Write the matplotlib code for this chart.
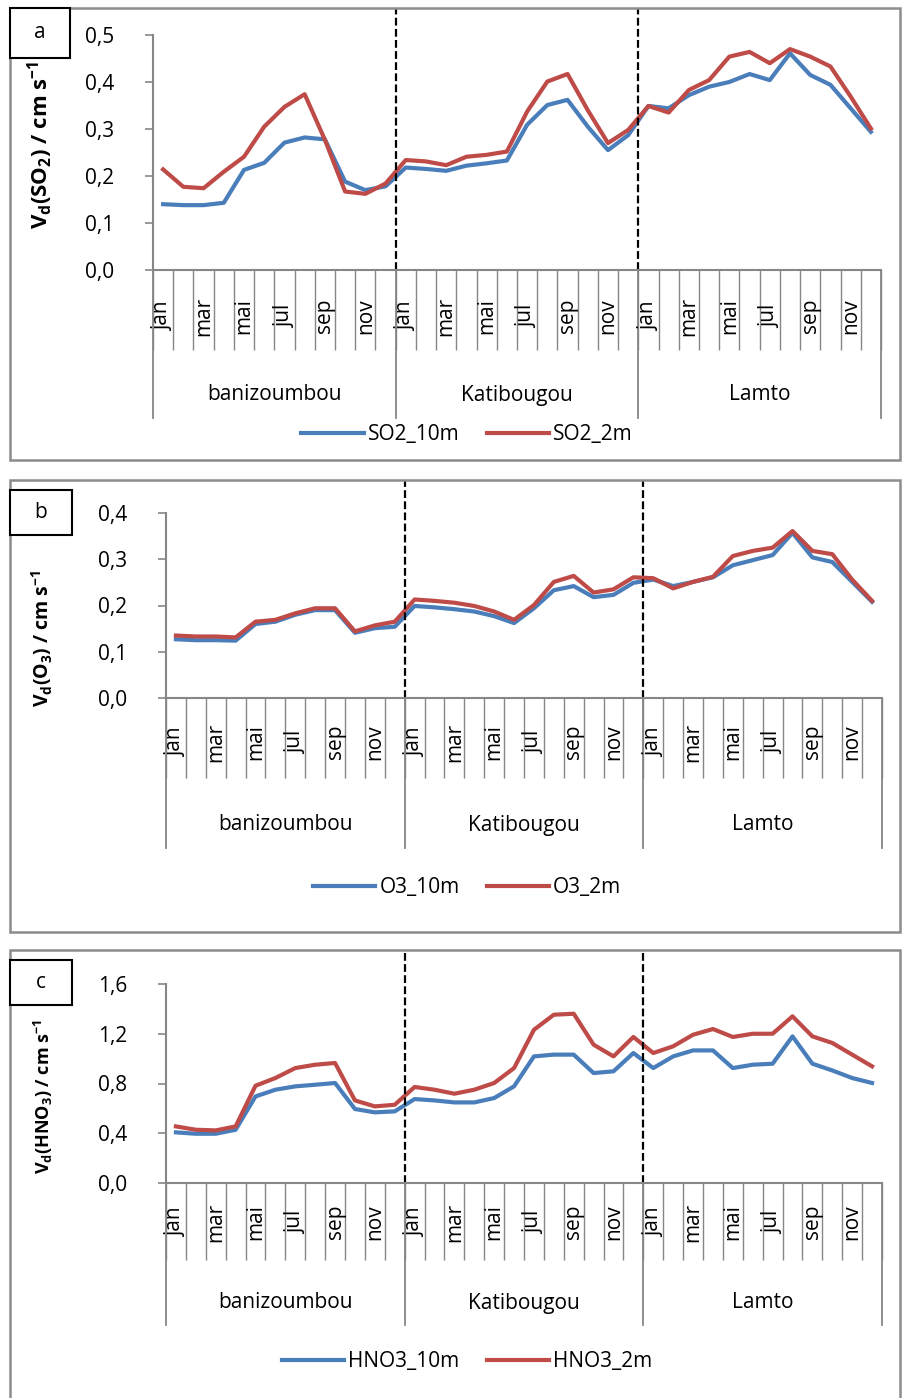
import numpy as np
import matplotlib
matplotlib.use("Agg")
import matplotlib.pyplot as plt
from matplotlib.patches import Rectangle
import matplotlib.transforms as mtransforms

plt.rcParams['font.family'] = ['Open Sans', 'DejaVu Sans']
plt.rcParams['mathtext.default'] = 'regular'

# data
months = ['jan', 'fev', 'mar', 'avr', 'mai', 'jun', 'jul', 'aou', 'sep', 'oct', 'nov', 'dec']
sites = ['banizoumbou', 'Katibougou', 'Lamto']

so2_10m = [0.140, 0.138, 0.138, 0.143, 0.213, 0.228, 0.271, 0.282, 0.278, 0.188, 0.170, 0.178,
           0.218, 0.215, 0.211, 0.222, 0.227, 0.233, 0.309, 0.351, 0.362, 0.305, 0.255, 0.287,
           0.349, 0.344, 0.372, 0.390, 0.400, 0.417, 0.404, 0.461, 0.415, 0.394, 0.344, 0.294]
so2_2m = [0.214, 0.177, 0.174, 0.209, 0.241, 0.305, 0.347, 0.374, 0.277, 0.167, 0.162, 0.184,
          0.234, 0.231, 0.223, 0.241, 0.245, 0.252, 0.337, 0.401, 0.417, 0.340, 0.270, 0.298,
          0.349, 0.335, 0.383, 0.404, 0.454, 0.464, 0.440, 0.470, 0.454, 0.433, 0.369, 0.301]

o3_10m = [0.127, 0.125, 0.125, 0.124, 0.160, 0.165, 0.180, 0.190, 0.190, 0.141, 0.151, 0.154,
          0.199, 0.196, 0.192, 0.187, 0.177, 0.162, 0.194, 0.233, 0.242, 0.218, 0.223, 0.249,
          0.256, 0.242, 0.251, 0.261, 0.287, 0.298, 0.309, 0.357, 0.304, 0.294, 0.251, 0.208]
o3_2m = [0.135, 0.133, 0.133, 0.131, 0.165, 0.169, 0.183, 0.194, 0.194, 0.144, 0.157, 0.165,
         0.213, 0.210, 0.206, 0.199, 0.187, 0.169, 0.201, 0.251, 0.264, 0.228, 0.235, 0.261,
         0.259, 0.237, 0.251, 0.262, 0.307, 0.318, 0.325, 0.361, 0.318, 0.311, 0.256, 0.210]

hno3_10m = [0.407, 0.396, 0.396, 0.428, 0.696, 0.750, 0.777, 0.790, 0.804, 0.595, 0.568, 0.576,
            0.675, 0.664, 0.648, 0.648, 0.683, 0.777, 1.018, 1.032, 1.032, 0.884, 0.898, 1.045,
            0.924, 1.018, 1.066, 1.066, 0.924, 0.951, 0.959, 1.179, 0.959, 0.905, 0.844, 0.804]
hno3_2m = [0.455, 0.428, 0.423, 0.455, 0.782, 0.844, 0.924, 0.951, 0.965, 0.664, 0.616, 0.629,
           0.772, 0.750, 0.718, 0.750, 0.804, 0.924, 1.232, 1.353, 1.361, 1.112, 1.018, 1.174,
           1.045, 1.099, 1.192, 1.238, 1.174, 1.200, 1.200, 1.340, 1.179, 1.126, 1.032, 0.938]

W, H = 903, 1398
blue = '#4a7ebb'
red = '#be4b48'
grey = '#868686'

fig = plt.figure(figsize=(W / 100, H / 100), dpi=100)


def fx(x):
    return x / W


def fy(y):
    return 1 - y / H


panels = [
    dict(letter='a', box=(10, 8, 900, 460), lbox=(10, 8, 70, 58), ax=(153, 35, 881, 270),
         ymax=0.5, ystep=0.1, v10=so2_10m, v2=so2_2m,
         ylabel='V$_{d}$(SO$_{2}$) / cm s$^{-1}$', lab_fs=16, lab_y=145,
         names=('SO2_10m', 'SO2_2m'),
         cat_bottom=350, grp_bottom=418, month_y=316, grp_y=395, leg_y=435),
    dict(letter='b', box=(10, 480, 900, 932), lbox=(10, 490, 72, 535), ax=(166, 513, 882, 698),
         ymax=0.4, ystep=0.1, v10=o3_10m, v2=o3_2m,
         ylabel='V$_{d}$(O$_{3}$) / cm s$^{-1}$', lab_fs=14, lab_y=638,
         names=('O3_10m', 'O3_2m'),
         cat_bottom=778, grp_bottom=848, month_y=742, grp_y=825, leg_y=888),
    dict(letter='c', box=(10, 950, 900, 1402), lbox=(10, 960, 72, 1005), ax=(166, 984, 882, 1183),
         ymax=1.6, ystep=0.4, v10=hno3_10m, v2=hno3_2m,
         ylabel='V$_{d}$(HNO$_{3}$) / cm s$^{-1}$', lab_fs=13, lab_y=1096,
         names=('HNO3_10m', 'HNO3_2m'),
         cat_bottom=1260, grp_bottom=1325, month_y=1222, grp_y=1303, leg_y=1362),
]

x = np.arange(36)

for p in panels:
    # outer panel frame
    x0, y0, x1, y1 = p['box']
    fig.add_artist(Rectangle((fx(x0), fy(y1)), fx(x1) - fx(x0), (y1 - y0) / H,
                             transform=fig.transFigure, fill=False, ec='#8c8c8c', lw=1.8))

    l, t, r, b = p['ax']
    ax = fig.add_axes([fx(l), fy(b), fx(r) - fx(l), (b - t) / H])
    axh = b - t

    def ay(ypx):
        return (b - ypx) / axh

    ax.plot(x, p['v10'], color=blue, lw=3, solid_joinstyle='round', label=p['names'][0])
    ax.plot(x, p['v2'], color=red, lw=3, solid_joinstyle='round', label=p['names'][1])

    ax.set_xlim(-0.5, 35.5)
    ax.set_ylim(0, p['ymax'])
    yt = np.arange(0, p['ymax'] + 1e-9, p['ystep'])
    ax.set_yticks(yt)
    ax.set_yticklabels([('%.1f' % v).replace('.', ',') for v in yt], fontsize=15)
    ax.tick_params(axis='y', direction='out', length=6, width=1.2, color=grey, pad=22)

    # category boundaries as long tick marks
    ax.set_xticks(np.arange(-0.5, 36, 1))
    ax.set_xticklabels([])
    ax.tick_params(axis='x', direction='out', length=(p['cat_bottom'] - b) * 0.72,
                   width=1.0, color=grey)

    for s in ['top', 'right']:
        ax.spines[s].set_visible(False)
    for s in ['left', 'bottom']:
        ax.spines[s].set_color(grey)
        ax.spines[s].set_linewidth(1.5)

    trans = mtransforms.blended_transform_factory(ax.transData, ax.transAxes)

    # month labels (every other month)
    for i in range(0, 36, 2):
        ax.text(i, ay(p['month_y']), months[i % 12], transform=trans, rotation=90,
                ha='center', va='center', fontsize=15)

    # site separators and labels
    for xb in [-0.5, 11.5, 23.5, 35.5]:
        ax.plot([xb, xb], [0, ay(p['grp_bottom'])], transform=trans, color=grey,
                lw=1.3, clip_on=False)
    for k, name in enumerate(sites):
        ax.text(6 * (2 * k + 1) - 0.5, ay(p['grp_y']), name, transform=trans,
                ha='center', va='center', fontsize=15)

    # dashed dividers between sites
    for xb in [11.5, 23.5]:
        ax.plot([xb, xb], [0, ay(y0)], transform=trans, color='black', lw=1.6,
                ls=(0, (3.5, 1.5)), clip_on=False)

    ax.set_ylabel(p['ylabel'], fontsize=p['lab_fs'], fontweight='bold')
    ax.yaxis.set_label_coords((55 - l) / (r - l), ay(p['lab_y']))

    ax.legend(loc='center', bbox_to_anchor=(fx(467), fy(p['leg_y'])),
              bbox_transform=fig.transFigure, ncol=2, frameon=False, fontsize=15,
              handlelength=3.0, handletextpad=0.2, columnspacing=1.3)

    # panel letter box
    lx0, ly0, lx1, ly1 = p['lbox']
    fig.add_artist(Rectangle((fx(lx0), fy(ly1)), fx(lx1) - fx(lx0), (ly1 - ly0) / H,
                             transform=fig.transFigure, fc='white', ec='black', lw=1.5))
    fig.text(fx((lx0 + lx1) / 2), fy((ly0 + ly1) / 2), p['letter'], ha='center',
             va='center', fontsize=15)

fig.savefig('out.png', dpi=100)
